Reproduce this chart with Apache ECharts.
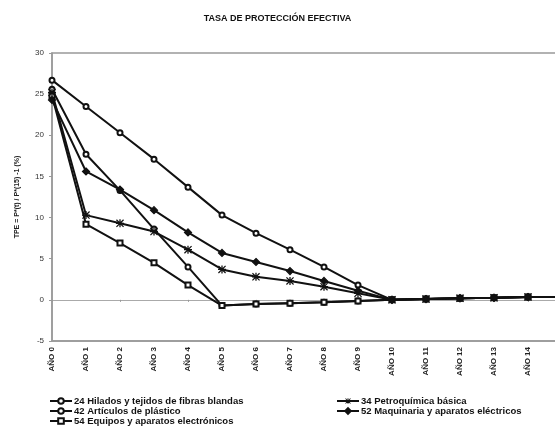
<!DOCTYPE html>
<html>
<head>
<meta charset="utf-8">
<script src="https://cdn.jsdelivr.net/npm/echarts@6/dist/echarts.min.js"></script>
<style>
  html, body { margin: 0; padding: 0; background: #fff; }
  #chart { width: 555px; height: 432px; }
</style>
</head>
<body>
<div id="chart"></div>
<script>
// años 0..15 (el 15 queda fuera del recorte)
const categories = ['AÑO 0', 'AÑO 1', 'AÑO 2', 'AÑO 3', 'AÑO 4', 'AÑO 5', 'AÑO 6', 'AÑO 7',
  'AÑO 8', 'AÑO 9', 'AÑO 10', 'AÑO 11', 'AÑO 12', 'AÑO 13', 'AÑO 14', 'AÑO 15'];

const hilados = [26.7, 23.5, 20.3, 17.1, 13.7, 10.3, 8.1, 6.1, 4.0, 1.8, 0, 0.1, 0.2, 0.25, 0.35, 0.35];
const plastico = [25.6, 17.7, 13.3, 8.6, 4.0, -0.7, -0.5, -0.4, -0.3, -0.15, 0, 0.1, 0.2, 0.25, 0.35, 0.35];
const electronicos = [24.8, 9.2, 6.9, 4.5, 1.8, -0.7, -0.5, -0.4, -0.3, -0.15, 0, 0.1, 0.2, 0.25, 0.35, 0.35];
const petroquimica = [25.2, 10.3, 9.3, 8.3, 6.1, 3.7, 2.8, 2.3, 1.6, 0.8, 0, 0.1, 0.2, 0.25, 0.35, 0.35];
const maquinaria = [24.3, 15.6, 13.4, 10.9, 8.2, 5.7, 4.6, 3.5, 2.3, 1.1, 0, 0.1, 0.2, 0.25, 0.35, 0.35];

const names = [
  '24 Hilados y tejidos de fibras blandas',
  '42 Artículos de plástico',
  '54 Equipos y aparatos electrónicos',
  '34 Petroquímica básica',
  '52 Maquinaria y aparatos eléctricos'
];

const font = 'Liberation Sans, Arial, sans-serif';
// asterisco relleno (barras finas)
const starPath = 'path://M4.2,0L5.8,0L5.8,10L4.2,10ZM0,4.2L10,4.2L10,5.8L0,5.8Z' +
  'M0,1.1L1.1,0L10,8.9L8.9,10ZM8.9,0L10,1.1L1.1,10L0,8.9Z';

function serie(name, data, symbol, size, border) {
  return {
    name: name,
    type: 'line',
    data: data,
    symbol: symbol,
    symbolSize: size,
    showSymbol: true,
    lineStyle: { color: '#111', width: 2 },
    itemStyle: { color: '#111', borderColor: '#111', borderWidth: border },
    emphasis: { disabled: true },
    animation: false
  };
}

const legendText = { fontFamily: font, fontSize: 9.5, fontWeight: 'bold', color: '#111', padding: [0, 0, 0, -3] };

const chart = echarts.init(document.getElementById('chart'));
chart.setOption({
  animation: false,
  title: {
    text: 'TASA DE PROTECCIÓN EFECTIVA',
    left: 'center',
    top: 9,
    textStyle: { fontFamily: font, fontSize: 9, fontWeight: 'bold', color: '#111' }
  },
  legend: [
    {
      data: names.slice(0, 3),
      orient: 'vertical',
      left: 44,
      top: 391,
      height: 60,
      itemGap: 0,
      itemWidth: 22,
      itemHeight: 7,
      textStyle: legendText
    },
    {
      data: names.slice(3),
      orient: 'vertical',
      left: 331,
      top: 391,
      height: 60,
      itemGap: 0,
      itemWidth: 22,
      itemHeight: 7,
      textStyle: legendText
    }
  ],
  grid: {
    left: 52,
    top: 53,
    bottom: 91,
    right: -7,
    outerBoundsMode: 'none',
    containLabel: false,
    show: true,
    borderColor: '#999',
    borderWidth: 1.5
  },
  xAxis: [
    {
      type: 'category',
      data: categories,
      boundaryGap: false,
      position: 'bottom',
      axisLine: { show: true, onZero: false, lineStyle: { color: '#999', width: 1.5 } },
      axisTick: { show: false },
      axisLabel: {
        rotate: 90,
        interval: 0,
        margin: 6,
        fontFamily: font,
        fontSize: 8,
        fontWeight: 'bold',
        color: '#222'
      },
      splitLine: { show: false }
    },
    {
      type: 'category',
      data: categories,
      boundaryGap: false,
      position: 'bottom',
      axisLine: { show: true, onZero: true, lineStyle: { color: '#aaa', width: 1 } },
      axisTick: { show: true, alignWithLabel: true, length: 2, inside: false, lineStyle: { color: '#999' } },
      axisLabel: { show: false },
      splitLine: { show: false }
    }
  ],
  yAxis: {
    type: 'value',
    min: -5,
    max: 30,
    interval: 5,
    name: 'TPE = P*(t) / P*(15) -1 (%)',
    nameLocation: 'middle',
    nameRotate: 90,
    nameGap: 31,
    nameTextStyle: { fontFamily: font, fontSize: 7, fontWeight: 'bold', color: '#222' },
    axisLine: { show: true, lineStyle: { color: '#999', width: 1.5 } },
    axisTick: { show: true, length: 3, lineStyle: { color: '#999' } },
    axisLabel: { fontFamily: font, fontSize: 8, color: '#333', margin: 8 },
    splitLine: { show: false }
  },
  series: [
    serie(names[0], hilados, 'emptyCircle', 5, 1.2),
    serie(names[1], plastico, 'emptyCircle', 5, 1.2),
    serie(names[2], electronicos, 'emptyRect', 5, 1.2),
    serie(names[3], petroquimica, starPath, 8, 0),
    serie(names[4], maquinaria, 'diamond', 7, 1.2)
  ]
});
</script>
</body>
</html>
